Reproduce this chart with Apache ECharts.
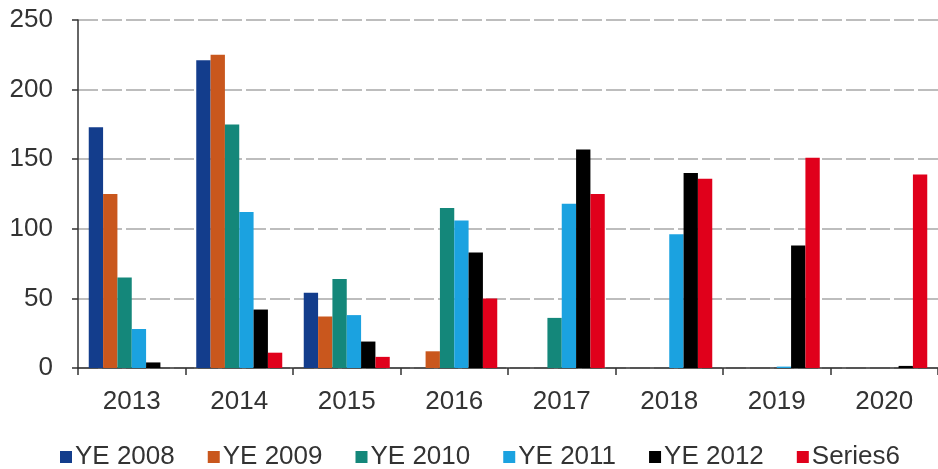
<!DOCTYPE html>
<html>
<head>
<meta charset="utf-8">
<script src="https://cdn.jsdelivr.net/npm/echarts@6/dist/echarts.min.js"></script>
<style>
html,body{margin:0;padding:0;background:#fff;}
#chart{width:938px;height:469px;}
</style>
</head>
<body>
<div id="chart"></div>
<script>
const categories = ['2013','2014','2015','2016','2017','2018','2019','2020'];
const seriesNames = ['YE 2008','YE 2009','YE 2010','YE 2011','YE 2012','Series6'];
const ye2008 = [173, 221, 54, 0, 0, 0, 0, 0];
const ye2009 = [125, 225, 37, 12, 0, 0, 0, 0];
const ye2010 = [65, 175, 64, 115, 36, 0, 0, 0];
const ye2011 = [28, 112, 38, 106, 118, 96, 1, 0];
const ye2012 = [4, 42, 19, 83, 157, 140, 88, 1.5];
const series6 = [0, 11, 8, 50, 125, 136, 151, 139];
const yTicks = [0, 50, 100, 150, 200, 250];

const colors = ['#133d8c', '#c9571d', '#14877a', '#1ba2e0', '#000000', '#e0001b'];
const values = [ye2008, ye2009, ye2010, ye2011, ye2012, series6];
const font = 'Liberation Sans, Arial, sans-serif';

const chart = echarts.init(document.getElementById('chart'));
chart.setOption({
  backgroundColor: '#ffffff',
  animation: false,
  color: colors,
  textStyle: {fontFamily: font},
  grid: {left: 78, top: 20, width: 869, height: 348, containLabel: false},
  legend: {
    data: seriesNames,
    left: 55,
    top: 439,
    itemWidth: 12,
    itemHeight: 12,
    itemGap: 33,
    icon: 'rect',
    textStyle: {fontSize: 26, color: '#333333', fontFamily: font, padding: [0,0,0,-2]}
  },
  xAxis: {
    type: 'category',
    data: categories,
    axisLine: {lineStyle: {color: '#333333', width: 1.5}},
    axisTick: {show: true, length: 7, lineStyle: {color: '#333333', width: 1.5}},
    axisLabel: {fontSize: 26, color: '#333333', margin: 21, fontFamily: font}
  },
  yAxis: {
    type: 'value',
    min: yTicks[0],
    max: yTicks[yTicks.length - 1],
    interval: 50,
    axisLine: {show: true, lineStyle: {color: '#333333', width: 1.5}},
    axisTick: {show: true, length: 6, lineStyle: {color: '#333333', width: 1.5}},
    axisLabel: {fontSize: 26, color: '#333333', margin: 25, fontFamily: font},
    splitLine: {show: true, lineStyle: {color: '#a8a8a8', width: 1.5, type: [20, 4]}}
  },
  series: seriesNames.map((n, i) => ({
    name: n,
    type: 'bar',
    data: values[i],
    barGap: '0%',
    barCategoryGap: '20%',
    itemStyle: {color: colors[i]}
  }))
});
</script>
</body>
</html>
